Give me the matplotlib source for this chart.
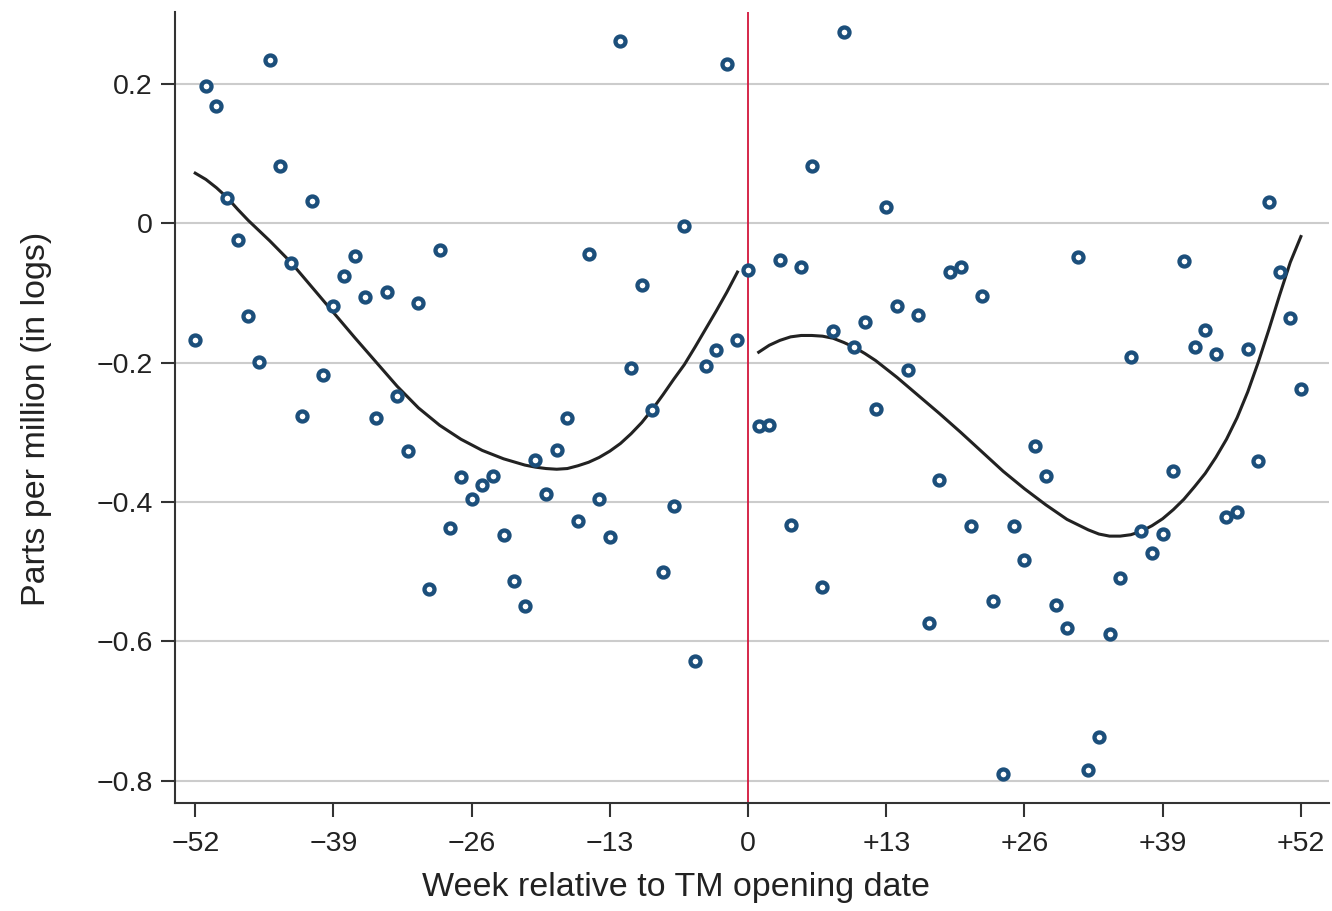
import numpy as np
import matplotlib
matplotlib.use('Agg')
from matplotlib import pyplot as plt

plt.rcParams['font.family'] = ['Liberation Sans', 'DejaVu Sans']

# weekly points
weeks_pre = list(range(-52, 1))
ppm_pre = [-0.168, 0.197, 0.168, 0.037, -0.024, -0.133, -0.199, 0.234, 0.082, -0.057,
           -0.277, 0.032, -0.218, -0.118, -0.075, -0.047, -0.106, -0.280, -0.098, -0.248,
           -0.327, -0.115, -0.525, -0.039, -0.438, -0.364, -0.395, -0.376, -0.363, -0.448,
           -0.514, -0.550, -0.340, -0.389, -0.326, -0.280, -0.428, -0.044, -0.395, -0.450,
           0.261, -0.207, -0.088, -0.268, -0.501, -0.406, -0.004, -0.628, -0.205, -0.182,
           0.228, -0.168, -0.067]
weeks_post = list(range(1, 53))
ppm_post = [-0.291, -0.289, -0.052, -0.433, -0.062, 0.082, -0.522, -0.154, 0.274, -0.178,
            -0.142, -0.267, 0.024, -0.119, -0.211, -0.132, -0.574, -0.369, -0.070, -0.063,
            -0.435, -0.105, -0.542, -0.790, -0.435, -0.483, -0.319, -0.363, -0.548, -0.581,
            -0.049, -0.785, -0.737, -0.590, -0.509, -0.192, -0.442, -0.473, -0.446, -0.356,
            -0.054, -0.178, -0.153, -0.187, -0.422, -0.415, -0.181, -0.341, 0.030, -0.070,
            -0.136, -0.238]

# fitted curves
fit_x_pre = [-52, -51, -50, -49, -48, -47, -45, -43, -41, -39, -37, -35, -33, -31, -29, -27,
             -25, -23, -21, -20, -19, -18, -17, -16, -15, -14, -13, -12, -11, -10, -9, -8,
             -7, -6, -5, -4, -3, -2, -1]
fit_y_pre = [0.072, 0.063, 0.051, 0.037, 0.020, 0.004, -0.025, -0.056, -0.092, -0.128,
             -0.164, -0.199, -0.234, -0.265, -0.290, -0.310, -0.326, -0.338, -0.347, -0.350,
             -0.352, -0.353, -0.352, -0.348, -0.343, -0.336, -0.327, -0.316, -0.302, -0.286,
             -0.267, -0.246, -0.224, -0.203, -0.178, -0.152, -0.126, -0.099, -0.070]
fit_x_post = [1, 2, 3, 4, 5, 6, 7, 8, 9, 10, 11, 12, 14, 16, 18, 20, 22, 24, 26, 28, 30, 32,
              33, 34, 35, 36, 37, 38, 39, 40, 41, 42, 43, 44, 45, 46, 47, 48, 49, 50, 51, 52]
fit_y_post = [-0.185, -0.175, -0.168, -0.163, -0.161, -0.161, -0.162, -0.165, -0.171, -0.178,
              -0.187, -0.197, -0.221, -0.247, -0.273, -0.300, -0.328, -0.356, -0.381, -0.404,
              -0.425, -0.440, -0.446, -0.449, -0.449, -0.447, -0.442, -0.434, -0.424, -0.411,
              -0.396, -0.378, -0.359, -0.336, -0.310, -0.279, -0.242, -0.199, -0.152, -0.103,
              -0.056, -0.019]

xticks = [-52, -39, -26, -13, 0, 13, 26, 39, 52]
xticklabels = ['\u221252', '\u221239', '\u221226', '\u221213', '0', '+13', '+26', '+39', '+52']
yticks = [-0.8, -0.6, -0.4, -0.2, 0, 0.2]
yticklabels = ['\u22120.8', '\u22120.6', '\u22120.4', '\u22120.2', '0', '0.2']

fig = plt.figure(figsize=(13.32, 9.11), dpi=100)
ax = fig.add_axes([0.1314, 0.1186, 0.866, 0.868])

for y in yticks:
    ax.axhline(y, color='#cccccc', lw=1.5, zorder=0)
ax.axvline(0, color='#d2163c', lw=1.3, zorder=1)

dot = dict(ls='none', marker='o', ms=7.2, mfc='white', mec='#1c4f7b', mew=3.1, zorder=3)
ax.plot(weeks_pre, ppm_pre, **dot)
ax.plot(weeks_post, ppm_post, **dot)
ax.plot(fit_x_pre, fit_y_pre, color='#222222', lw=2.2, zorder=2)
ax.plot(fit_x_post, fit_y_post, color='#222222', lw=2.2, zorder=2)

ax.set_xlim(-53.9, 54.6)
ax.set_ylim(-0.832, 0.303)
ax.set_xticks(xticks)
ax.set_xticklabels(xticklabels)
ax.set_yticks(yticks)
ax.set_yticklabels(yticklabels)
ax.tick_params(axis='both', labelsize=20.5, colors='#333333', labelcolor='#222222',
               width=1.5, direction='out')
ax.tick_params(axis='x', length=10, pad=10)
ax.tick_params(axis='y', length=10, pad=6)

for s in ['top', 'right']:
    ax.spines[s].set_visible(False)
for s in ['left', 'bottom']:
    ax.spines[s].set_linewidth(1.5)
    ax.spines[s].set_color('#333333')

ax.set_xlabel('Week relative to TM opening date', fontsize=24.5, color='#222222')
ax.set_ylabel('Parts per million (in logs)', fontsize=24.5, color='#222222')
ax.xaxis.set_label_coords(0.4345, -0.087)
ax.yaxis.set_label_coords(-0.107, 0.4855)

fig.savefig('out.png', dpi=100)
